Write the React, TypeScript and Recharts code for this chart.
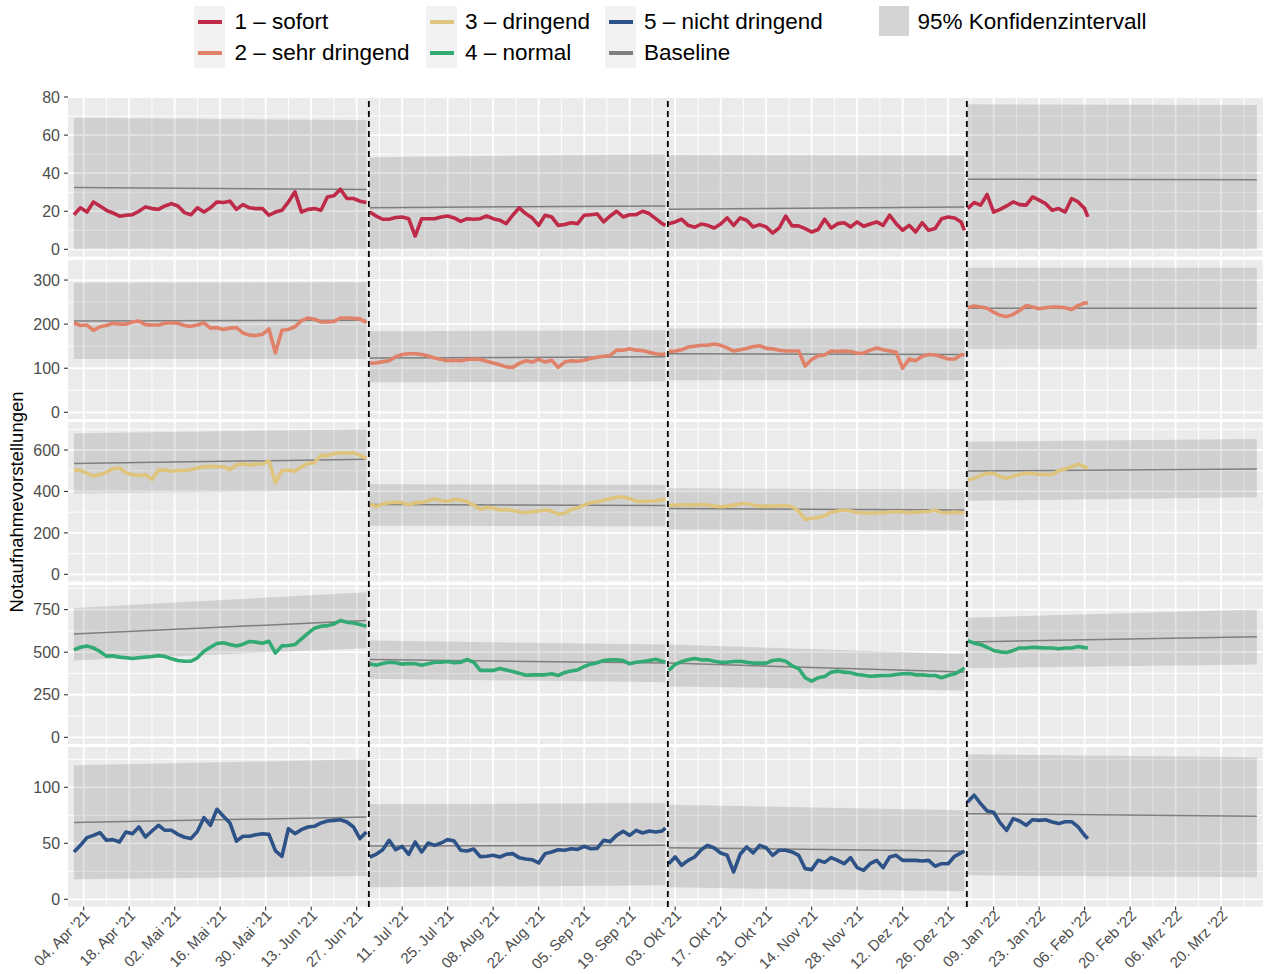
import React from 'react';
import { ComposedChart, Line, Area, XAxis, YAxis, CartesianGrid, ReferenceLine } from 'recharts';

// day index: 0 = 01. Apr 2021
const quarterStart = [0, 91, 183, 275];
const quarterLast = [90, 182, 274, 312];
const bandDays = [[0, 90], [91, 182], [183, 274], [275, 364]];
const quarterBreaks = [90.75, 182.75, 274.75];

const tickDays = [3, 17, 31, 45, 59, 73, 87, 101, 115, 129, 143, 157, 171, 185, 199, 213, 227, 241, 255, 269, 283, 297, 311, 325, 339, 353];
const tickLabels = ["04. Apr '21", "18. Apr '21", "02. Mai '21", "16. Mai '21", "30. Mai '21", "13. Jun '21", "27. Jun '21", "11. Jul '21", "25. Jul '21", "08. Aug '21", "22. Aug '21", "05. Sep '21", "19. Sep '21", "03. Okt '21", "17. Okt '21", "31. Okt '21", "14. Nov '21", "28. Nov '21", "12. Dez '21", "26. Dez '21", "09. Jan '22", "23. Jan '22", "06. Feb '22", "20. Feb '22", "06. Mrz '22", "20. Mrz '22"];
const minorDays = [10, 24, 38, 52, 66, 80, 94, 108, 122, 136, 150, 164, 178, 192, 206, 220, 234, 248, 262, 276, 290, 304, 318, 332, 346, 360];

const categories = ['1 – sofort', '2 – sehr dringend', '3 – dringend', '4 – normal', '5 – nicht dringend'];
const seriesColors = ['#BE2A48', '#E08269', '#DEC47D', '#32AA73', '#2D5287'];
const baselineLabel = 'Baseline';
const bandLabel = '95% Konfidenzintervall';
const yTitle = 'Notaufnahmevorstellungen';

// values every 2nd day per quarter (last point = last day of quarter)
const sofortQ1 = [18.2, 21.8, 19.6, 24.9, 22.8, 20.5, 19.1, 17.4, 17.9, 18.2, 20.0, 22.3, 21.4, 21.0, 22.8, 24.0, 22.8, 19.3, 18.2, 21.8, 19.6, 21.8, 24.9, 24.6, 25.3, 21.0, 23.5, 21.8, 21.4, 21.4, 17.9, 19.6, 20.5, 24.9, 30.2, 19.6, 21.0, 21.4, 20.5, 27.5, 28.1, 31.6, 26.7, 26.7, 25.3, 24.6];
const sofortQ2 = [19.6, 17.5, 15.8, 15.8, 16.7, 17.0, 16.1, 7.0, 16.1, 16.1, 16.1, 17.0, 17.5, 16.5, 14.7, 16.1, 15.8, 16.1, 17.5, 16.1, 15.3, 13.5, 17.9, 21.8, 18.8, 16.5, 12.6, 17.9, 17.0, 12.6, 13.0, 14.0, 13.5, 17.9, 18.2, 18.6, 14.4, 17.5, 20.0, 17.0, 18.2, 18.2, 20.0, 18.8, 16.1, 13.5, 12.6];
const sofortQ3 = [13.5, 14.4, 15.8, 12.6, 11.6, 13.3, 12.6, 11.2, 13.3, 16.5, 12.6, 16.5, 15.3, 11.8, 13.0, 11.8, 8.6, 11.2, 17.5, 12.3, 12.3, 10.9, 9.1, 10.4, 15.8, 11.2, 13.5, 14.0, 11.8, 14.4, 12.1, 13.3, 14.4, 12.6, 17.9, 13.5, 10.0, 12.6, 9.1, 14.0, 10.0, 10.9, 16.1, 17.0, 16.5, 14.4, 10.0];
const sofortQ4 = [21.4, 24.6, 23.2, 28.8, 19.6, 21.0, 22.8, 24.9, 23.5, 23.2, 27.5, 25.8, 24.0, 20.5, 21.4, 19.6, 26.7, 24.9, 21.4, 17.0];

const sehrQ1 = [203, 197, 198, 186, 194, 197, 202, 200, 200, 205, 207, 199, 198, 198, 202, 203, 202, 197, 195, 198, 203, 191, 192, 188, 191, 192, 180, 175, 174, 177, 189, 135, 186, 188, 194, 208, 214, 211, 205, 205, 206, 214, 214, 213, 212, 203];
const sehrQ2 = [112, 112, 115, 117, 126, 131, 133, 133, 131, 128, 123, 120, 117, 118, 117, 120, 121, 120, 116, 112, 108, 103, 102, 111, 117, 114, 120, 114, 118, 102, 114, 117, 116, 118, 122, 125, 127, 129, 141, 141, 144, 141, 140, 136, 133, 131, 133];
const sehrQ3 = [138, 139, 142, 148, 150, 152, 152, 155, 152, 146, 139, 142, 145, 149, 151, 145, 144, 141, 139, 139, 139, 105, 120, 128, 130, 139, 138, 139, 138, 134, 134, 141, 146, 142, 139, 136, 100, 121, 117, 127, 131, 130, 126, 121, 121, 130, 131];
const sehrQ4 = [237, 241, 239, 236, 227, 220, 217, 222, 231, 242, 239, 235, 237, 239, 239, 237, 233, 242, 248, 248];

const dringendQ1 = [503, 502, 487, 474, 482, 492, 510, 513, 490, 481, 477, 481, 458, 503, 503, 497, 502, 500, 506, 513, 519, 521, 519, 519, 506, 529, 534, 527, 532, 532, 548, 442, 500, 503, 497, 519, 535, 539, 574, 573, 582, 587, 585, 587, 574, 560];
const dringendQ2 = [339, 327, 339, 345, 348, 345, 335, 345, 347, 355, 365, 355, 353, 361, 358, 350, 334, 313, 323, 319, 310, 313, 308, 302, 297, 302, 306, 310, 305, 290, 294, 313, 321, 335, 345, 350, 358, 366, 371, 373, 365, 353, 352, 353, 355, 358, 365];
const dringendQ3 = [332, 334, 335, 335, 334, 337, 334, 329, 326, 329, 334, 340, 342, 335, 329, 329, 329, 331, 332, 326, 306, 265, 271, 274, 282, 300, 306, 310, 306, 298, 297, 294, 297, 297, 300, 302, 302, 297, 300, 302, 303, 310, 297, 297, 300, 297, 297];
const dringendQ4 = [455, 463, 477, 487, 487, 471, 463, 474, 482, 487, 487, 482, 482, 482, 500, 508, 519, 532, 519, 511];

const normalQ1 = [514, 529, 537, 525, 504, 477, 479, 471, 467, 463, 467, 471, 475, 480, 475, 461, 451, 447, 447, 467, 506, 529, 551, 555, 545, 537, 547, 563, 559, 553, 564, 495, 537, 539, 545, 578, 611, 641, 652, 656, 666, 686, 676, 672, 662, 652];
const normalQ2 = [432, 424, 434, 441, 438, 430, 434, 432, 424, 432, 441, 441, 445, 438, 441, 457, 441, 393, 393, 393, 404, 396, 387, 377, 365, 367, 367, 367, 373, 363, 381, 389, 396, 416, 430, 438, 451, 455, 455, 451, 432, 441, 445, 451, 459, 447, 443];
const normalQ3 = [393, 428, 445, 455, 463, 455, 455, 447, 441, 441, 445, 447, 441, 436, 436, 436, 451, 455, 447, 420, 404, 350, 330, 350, 357, 383, 389, 383, 379, 369, 365, 359, 361, 363, 363, 369, 373, 375, 367, 367, 363, 363, 350, 363, 373, 393, 408];
const normalQ4 = [568, 553, 545, 529, 510, 502, 498, 510, 525, 525, 529, 527, 525, 525, 520, 525, 525, 533, 527, 525];

const nichtQ1 = [42.3, 48.2, 55.1, 57.1, 59.5, 52.7, 53.3, 51.2, 60.1, 58.6, 64.6, 55.7, 61.0, 66.1, 61.6, 61.6, 58.0, 55.4, 54.2, 60.7, 72.9, 66.1, 80.4, 74.1, 68.2, 52.0, 56.3, 56.3, 57.7, 58.6, 58.0, 43.2, 38.4, 63.1, 58.6, 62.2, 64.6, 65.2, 68.2, 69.9, 70.5, 71.1, 69.0, 64.6, 54.2, 60.1];
const nichtQ2 = [37.8, 40.2, 44.3, 52.7, 44.3, 47.3, 40.2, 51.2, 42.3, 50.3, 48.2, 50.3, 53.3, 52.1, 43.8, 43.2, 44.9, 38.1, 38.4, 39.3, 37.8, 40.2, 40.8, 37.2, 36.0, 35.4, 32.4, 40.8, 42.3, 44.3, 43.8, 45.2, 44.6, 47.3, 45.2, 45.5, 52.7, 51.5, 57.1, 60.7, 57.1, 61.6, 59.2, 61.0, 60.1, 61.0, 63.7];
const nichtQ3 = [31.8, 37.8, 30.4, 34.8, 37.8, 44.3, 48.2, 45.8, 41.4, 39.3, 24.4, 40.2, 46.7, 41.4, 48.2, 46.1, 39.3, 43.8, 43.8, 42.3, 39.3, 27.4, 26.5, 34.8, 33.0, 37.2, 34.8, 31.8, 37.2, 28.3, 25.9, 31.8, 34.8, 28.3, 37.8, 39.3, 34.8, 34.8, 34.8, 34.2, 34.8, 29.5, 31.8, 31.8, 38.4, 41.4, 43.2];
const nichtQ4 = [86.9, 92.9, 85.4, 78.9, 77.7, 68.2, 61.6, 72.0, 69.9, 66.1, 71.1, 70.5, 71.1, 69.0, 67.6, 69.3, 69.3, 64.6, 57.1, 54.2];

// baseline and 95% interval at start / end of each quarter
const sofortBase = [[32.5, 31.4], [21.9, 22.8], [21.1, 22.3], [36.8, 36.6]];
const sofortLow = [[0, 0], [0, 0], [0, 0], [0, 0]];
const sofortHigh = [[69.1, 67.9], [48.4, 50.0], [49.5, 49.3], [76.2, 75.8]];

const sehrBase = [[207, 209], [123, 126], [133, 131], [236, 236]];
const sehrLow = [[121, 121], [68, 70], [73, 73], [144, 144]];
const sehrHigh = [[294, 295], [184, 186], [190, 190], [328, 328]];

const dringendBase = [[535, 555], [337, 332], [318, 310], [498, 508]];
const dringendLow = [[390, 403], [234, 232], [216, 213], [355, 372]];
const dringendHigh = [[681, 700], [435, 431], [415, 410], [640, 653]];

const normalBase = [[607, 686], [457, 436], [436, 383], [560, 590]];
const normalLow = [[451, 523], [344, 324], [299, 275], [406, 428]];
const normalHigh = [[760, 852], [568, 545], [545, 490], [703, 750]];

const nichtBase = [[68.5, 73.5], [47.6, 48.2], [46.1, 42.9], [76.5, 74.1]];
const nichtLow = [[17.9, 20.8], [10.7, 12.5], [10.7, 7.1], [21.4, 19.6]];
const nichtHigh = [[119.6, 125.0], [84.8, 86.0], [84.5, 79.5], [129.5, 126.8]];

const yDomains = [[-3.81, 80.01], [-16.45, 345.45], [-35, 735], [-42.6, 894.6], [-6.5, 136]];
const yMajor = [[0, 20, 40, 60, 80], [0, 100, 200, 300], [0, 200, 400, 600], [0, 250, 500, 750], [0, 50, 100]];
const yMinor = [[10, 30, 50, 70], [50, 150, 250], [100, 300, 500, 700], [125, 375, 625, 875], [25, 75, 125]];

// layout
const W = 1268;
const PLOT_LEFT = 68;
const RIGHT_M = 5.2;
const PANEL_H = 159.6;
const TOP_PAD = 12;
const PANEL_TOPS = [97, 259.6, 422.2, 584.8, 747.4];
const X_AXIS_H = 66.6;
const X_DOMAIN: [number, number] = [-1.82, 365.82];
const FONT = '"Liberation Sans", Arial, sans-serif';

function buildRows(vals: number[][], base: number[][], low: number[][], high: number[][]) {
  const rows = new Map<number, any>();
  const get = (d: number) => {
    if (!rows.has(d)) rows.set(d, { day: d });
    return rows.get(d);
  };
  vals.forEach((qv, q) => {
    qv.forEach((v, i) => {
      const d = Math.min(quarterStart[q] + 2 * i, quarterLast[q]);
      get(d).v = v;
    });
    bandDays[q].forEach((d, i) => {
      const r = get(d);
      r[`base${q}`] = base[q][i];
      r[`band${q}`] = [low[q][i], high[q][i]];
    });
  });
  quarterBreaks.forEach((d) => {
    get(d).v = null;
  });
  return Array.from(rows.values()).sort((a, b) => a.day - b.day);
}

const panelRows = [
  buildRows([sofortQ1, sofortQ2, sofortQ3, sofortQ4], sofortBase, sofortLow, sofortHigh),
  buildRows([sehrQ1, sehrQ2, sehrQ3, sehrQ4], sehrBase, sehrLow, sehrHigh),
  buildRows([dringendQ1, dringendQ2, dringendQ3, dringendQ4], dringendBase, dringendLow, dringendHigh),
  buildRows([normalQ1, normalQ2, normalQ3, normalQ4], normalBase, normalLow, normalHigh),
  buildRows([nichtQ1, nichtQ2, nichtQ3, nichtQ4], nichtBase, nichtLow, nichtHigh),
];

const DateTick = (props: any) => {
  const { x, y, payload } = props;
  const i = tickDays.indexOf(payload.value);
  return (
    <text
      transform={`translate(${x + 7},${y + 4}) rotate(-45)`}
      textAnchor="end"
      fill="#4D4D4D"
      fontSize={15}
      fontFamily={FONT}
    >
      {tickLabels[i]}
    </text>
  );
};

function Panel({ idx }: { idx: number }) {
  const showX = idx === 4;
  return (
    <div style={{ position: 'absolute', left: 0, top: PANEL_TOPS[idx] - TOP_PAD }}>
      <ComposedChart
        width={W}
        height={TOP_PAD + PANEL_H + (showX ? X_AXIS_H : 0)}
        data={panelRows[idx]}
        margin={{ top: TOP_PAD, right: RIGHT_M, bottom: 0, left: 0 }}
      >
        <CartesianGrid fill="#EBEBEB" stroke="#FFFFFF" strokeWidth={0.9} horizontalValues={yMinor[idx]} verticalValues={minorDays} />
        <CartesianGrid stroke="#FFFFFF" strokeWidth={1.8} horizontalValues={yMajor[idx]} verticalValues={tickDays} />
        <XAxis
          dataKey="day"
          type="number"
          domain={X_DOMAIN}
          allowDataOverflow
          ticks={tickDays}
          interval={0}
          hide={!showX}
          height={X_AXIS_H}
          axisLine={false}
          tickLine={{ stroke: '#333333', strokeWidth: 1.1 }}
          tickSize={4}
          tick={(p: any) => <DateTick {...p} />}
        />
        <YAxis
          type="number"
          domain={yDomains[idx]}
          allowDataOverflow
          ticks={yMajor[idx]}
          interval={0}
          width={PLOT_LEFT}
          axisLine={false}
          tickLine={{ stroke: '#333333', strokeWidth: 1.1 }}
          tickSize={4}
          tickMargin={4}
          tick={{ fill: '#4D4D4D', fontSize: 16, fontFamily: FONT }}
        />
        {[0, 1, 2, 3].map((q) => (
          <Area
            key={`band${q}`}
            dataKey={`band${q}`}
            type="linear"
            stroke="none"
            fill="#000000"
            fillOpacity={0.115}
            connectNulls
            dot={false}
            activeDot={false}
            isAnimationActive={false}
          />
        ))}
        {[0, 1, 2, 3].map((q) => (
          <Line
            key={`base${q}`}
            dataKey={`base${q}`}
            type="linear"
            stroke="#7F7F7F"
            strokeWidth={1.5}
            connectNulls
            dot={false}
            activeDot={false}
            isAnimationActive={false}
          />
        ))}
        <Line
          dataKey="v"
          type="linear"
          stroke={seriesColors[idx]}
          strokeWidth={3.6}
          strokeLinejoin="round"
          dot={false}
          activeDot={false}
          isAnimationActive={false}
        />
      </ComposedChart>
    </div>
  );
}

const overlayRows = [{ day: X_DOMAIN[0] }, { day: X_DOMAIN[1] }];

function Legend() {
  const labels = [...categories, baselineLabel];
  const colors = [...seriesColors, '#7F7F7F'];
  const keyX = [194, 426, 605];
  const textX = [234.5, 465, 644];
  const rowTop = [6, 37];
  return (
    <>
      {labels.map((lab, i) => {
        const col = Math.floor(i / 2);
        const row = i % 2;
        return (
          <React.Fragment key={lab}>
            <div style={{ position: 'absolute', left: keyX[col], top: rowTop[row], width: 31, height: 31, background: '#F2F2F2' }} />
            <div style={{ position: 'absolute', left: keyX[col] + 3.5, top: rowTop[row] + 13.5, width: 24, height: 4, background: colors[i] }} />
            <div style={{ position: 'absolute', left: textX[col], top: rowTop[row], height: 31, lineHeight: '31px', fontSize: 22.5, color: '#000', whiteSpace: 'nowrap' }}>{lab}</div>
          </React.Fragment>
        );
      })}
      <div style={{ position: 'absolute', left: 879, top: 6, width: 30, height: 30, background: '#D4D4D4' }} />
      <div style={{ position: 'absolute', left: 917.5, top: 6, height: 31, lineHeight: '31px', fontSize: 22.5, color: '#000', whiteSpace: 'nowrap' }}>{bandLabel}</div>
    </>
  );
}

export default function App() {
  return (
    <div style={{ position: 'absolute', left: 0, top: 0, width: W, height: 974, background: '#FFFFFF', fontFamily: FONT, overflow: 'hidden' }}>
      <Legend />
      {[0, 1, 2, 3, 4].map((i) => (
        <Panel key={i} idx={i} />
      ))}
      <div style={{ position: 'absolute', left: 0, top: PANEL_TOPS[0] }}>
        <ComposedChart
          width={W}
          height={PANEL_TOPS[4] + PANEL_H - PANEL_TOPS[0]}
          data={overlayRows}
          margin={{ top: 0, right: RIGHT_M, bottom: 0, left: PLOT_LEFT }}
        >
          <XAxis dataKey="day" type="number" domain={X_DOMAIN} allowDataOverflow hide />
          <YAxis type="number" domain={[0, 1]} allowDataOverflow hide />
          <Line dataKey="none" stroke="none" dot={false} activeDot={false} isAnimationActive={false} />
          {quarterBreaks.map((d) => (
            <ReferenceLine key={d} x={d} stroke="#000000" strokeWidth={1.8} strokeDasharray="6 4" />
          ))}
        </ComposedChart>
      </div>
      <svg style={{ position: 'absolute', left: 0, top: 0 }} width={40} height={974}>
        <text transform="translate(23,502) rotate(-90)" textAnchor="middle" fontSize={18.5} fill="#000" fontFamily={FONT}>
          {yTitle}
        </text>
      </svg>
    </div>
  );
}
